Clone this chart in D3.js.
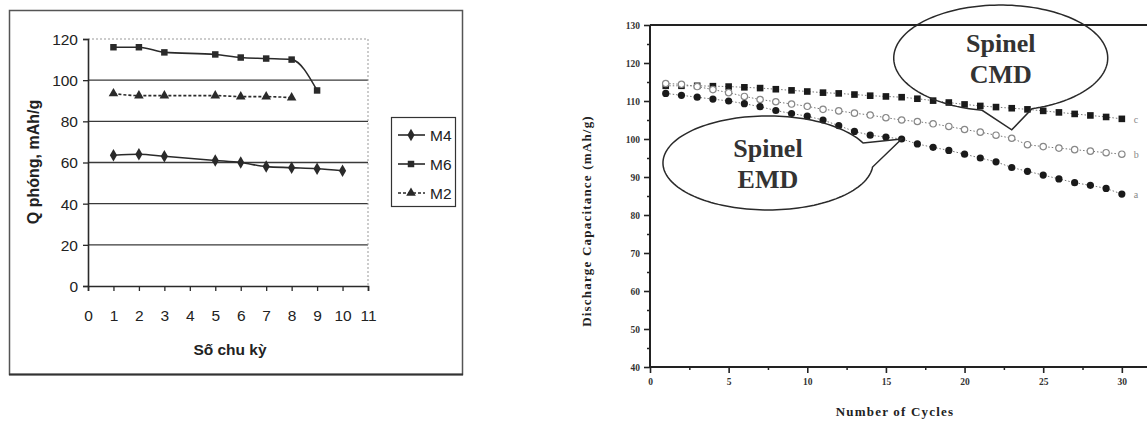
<!DOCTYPE html>
<html><head><meta charset="utf-8">
<script src="https://cdn.jsdelivr.net/npm/d3@7"></script>
<style>body{margin:0;background:#fff}svg{display:block}</style>
</head><body>
<svg id="c" width="1147" height="421"></svg>
<script>
// ---------- Left chart data ----------
const leftXTicks = [0,1,2,3,4,5,6,7,8,9,10,11];
const leftYTicks = [0,20,40,60,80,100,120];
const m4Cycles = [1,2,3,5,6,7,8,9,10];
const m4Values = [63.5,64,63,61,60,58,57.5,57,56];
const m6Cycles = [1,2,3,5,6,7,8,9];
const m6Values = [116,116,113.5,112.5,111,110.5,110,95];
const m2Cycles = [1,2,3,5,6,7,8];
const m2Values = [93.5,92.5,92.5,92.5,92,92,91.5];
const leftSeriesNames = ["M4","M6","M2"];
const leftXTitle = "Số chu kỳ";
const leftYTitle = "Q phóng, mAh/g";

// ---------- Right chart data ----------
const rightCycles = [1,2,3,4,5,6,7,8,9,10,11,12,13,14,15,16,17,18,19,20,21,22,23,24,25,26,27,28,29,30];
const cmdValues = [114.0,114.0,114.0,113.9,113.8,113.6,113.4,113.1,112.8,112.5,112.2,112.0,111.7,111.4,111.2,111.0,110.6,110.1,109.6,109.1,108.7,108.4,108.1,107.8,107.4,107.0,106.6,106.2,105.8,105.3];
const midValues = [114.6,114.4,113.8,113.0,112.2,111.2,110.4,109.8,109.2,108.6,107.8,107.4,106.8,106.3,105.6,105.0,104.6,104.0,103.3,102.5,101.8,101.0,100.2,98.5,98.0,97.6,97.2,96.8,96.4,96.0];
const emdValues = [112.0,111.5,111.0,110.5,110.0,109.3,108.5,107.5,106.7,106.0,105.0,103.5,102.0,101.0,100.5,100.0,98.7,97.8,97.0,96.0,95.0,94.0,92.5,91.5,90.5,89.5,88.5,87.8,87.0,85.5];
const endLabels = ["c","b","a"];
const rightXTicks = [0,5,10,15,20,25,30];
const rightYTicks = [40,50,60,70,80,90,100,110,120,130];
const rightXTitle = "Number of Cycles";
const rightYTitle = "Discharge Capacitance (mAh/g)";
const callouts = [
  {lines:["Spinel","CMD"], cx:22.3, cy:121.3, rx:107, ry:53, a1:73, a2:100, tipX:23, tipY:102.4},
  {lines:["Spinel","EMD"], cx:7.5, cy:93.7, rx:105, ry:47, a1:5, a2:-25, tipX:16, tipY:100}
];

const svg = d3.select("#c");
svg.append("rect").attr("width",1147).attr("height",421).attr("fill","#fff");
const ink = "#2a2a2a";

// =========== LEFT CHART ===========
const L = svg.append("g");
L.append("rect").attr("x",9.5).attr("y",10.5).attr("width",453).attr("height",364)
  .attr("fill","#fff").attr("stroke","#555").attr("stroke-width",1.5);
L.append("line").attr("x1",9).attr("x2",463).attr("y1",374.5).attr("y2",374.5).attr("stroke","#333").attr("stroke-width",2);

const lx = d3.scaleLinear().domain([0,11]).range([88,368]);
const ly = d3.scaleLinear().domain([0,120]).range([286,39]);

L.selectAll(".grid").data(leftYTicks.filter(v=>v>0 && v<120)).join("line")
  .attr("x1",lx(0)).attr("x2",lx(11)).attr("y1",d=>ly(d)).attr("y2",d=>ly(d))
  .attr("stroke","#3a3a3a").attr("stroke-width",1.4);
L.append("line").attr("x1",lx(0)).attr("x2",lx(11)).attr("y1",ly(120)).attr("y2",ly(120))
  .attr("stroke","#999").attr("stroke-width",1).attr("stroke-dasharray","2,2");
L.append("line").attr("x1",lx(11)).attr("x2",lx(11)).attr("y1",ly(120)).attr("y2",ly(0))
  .attr("stroke","#999").attr("stroke-width",1).attr("stroke-dasharray","2,2");

const lyAxis = L.append("g").attr("transform",`translate(${lx(0)},0)`)
  .call(d3.axisLeft(ly).tickValues(leftYTicks).tickSize(5).tickPadding(5));
const lxAxis = L.append("g").attr("transform",`translate(0,${ly(0)})`)
  .call(d3.axisBottom(lx).tickValues(leftXTicks).tickSize(5).tickPadding(19));
[lyAxis,lxAxis].forEach(a=>{
  a.select(".domain").attr("stroke",ink).attr("stroke-width",1.6);
  a.selectAll(".tick line").attr("stroke",ink).attr("stroke-width",1.3);
  a.selectAll("text").attr("font-family","Liberation Sans, Arial, sans-serif").attr("font-size",15.5).attr("fill","#222");
});
lyAxis.selectAll("text").attr("dy","0.35em");

L.append("text").attr("x",230).attr("y",355).attr("text-anchor","middle")
  .attr("font-family","Liberation Sans, Arial, sans-serif").attr("font-weight","bold").attr("font-size",15.5).attr("fill","#222")
  .text(leftXTitle);
L.append("text").attr("transform","translate(39,162) rotate(-90)").attr("text-anchor","middle")
  .attr("font-family","Liberation Sans, Arial, sans-serif").attr("font-weight","bold").attr("font-size",16).attr("fill","#222")
  .text(leftYTitle);

const leftSeries = [
  {name:leftSeriesNames[0], xs:m4Cycles, ys:m4Values, sym:d3.symbolDiamond, size:45, dash:null},
  {name:leftSeriesNames[1], xs:m6Cycles, ys:m6Values, sym:d3.symbolSquare, size:42, dash:null},
  {name:leftSeriesNames[2], xs:m2Cycles, ys:m2Values, sym:d3.symbolTriangle, size:40, dash:"3,2"}
];
const lline = d3.line().x(d=>lx(d[0])).y(d=>ly(d[1])).curve(d3.curveMonotoneX);
leftSeries.forEach(s=>{
  const pts = s.xs.map((x,i)=>[x,s.ys[i]]);
  L.append("path").attr("d",lline(pts)).attr("fill","none").attr("stroke",ink).attr("stroke-width",1.6)
    .attr("stroke-dasharray",s.dash);
  L.selectAll(null).data(pts).join("path")
    .attr("transform",d=>`translate(${lx(d[0])},${ly(d[1])})`)
    .attr("d",d3.symbol().type(s.sym).size(s.size)).attr("fill",ink);
});

const lg = L.append("g");
lg.append("rect").attr("x",391.5).attr("y",117.5).attr("width",64).attr("height",89)
  .attr("fill","#fff").attr("stroke","#333").attr("stroke-width",1.2);
leftSeries.forEach((s,i)=>{
  const yy = 135 + i*29;
  lg.append("line").attr("x1",398).attr("x2",425).attr("y1",yy).attr("y2",yy)
    .attr("stroke",ink).attr("stroke-width",1.6).attr("stroke-dasharray",s.dash);
  lg.append("path").attr("transform",`translate(411,${yy})`).attr("d",d3.symbol().type(s.sym).size(s.size)).attr("fill",ink);
  lg.append("text").attr("x",430).attr("y",yy).attr("dy","0.36em")
    .attr("font-family","Liberation Sans, Arial, sans-serif").attr("font-size",15.5).attr("fill","#222").text(s.name);
});

// =========== RIGHT CHART ===========
const R = svg.append("g");
const rx = d3.scaleLinear().domain([0,31.6]).range([650,1147]);
const ry = d3.scaleLinear().domain([40,130]).range([367,25]);
const serif = "Liberation Serif, Times New Roman, serif";

R.append("line").attr("x1",rx(0)).attr("x2",1147).attr("y1",ry(130)).attr("y2",ry(130)).attr("stroke","#222").attr("stroke-width",1.8);

R.append("g").attr("transform",`translate(${rx(0)},0)`)
  .call(d3.axisLeft(ry).tickValues(d3.range(45,130,10)).tickSize(3).tickFormat(""))
  .call(g=>{g.select(".domain").remove(); g.selectAll("line").attr("stroke","#222").attr("stroke-width",1.5);});
R.append("g").attr("transform",`translate(0,${ry(40)})`)
  .call(d3.axisBottom(rx).tickValues(d3.range(2.5,31,5)).tickSize(3).tickFormat(""))
  .call(g=>{g.select(".domain").remove(); g.selectAll("line").attr("stroke","#222").attr("stroke-width",1.5);});

const ryAxis = R.append("g").attr("transform",`translate(${rx(0)},0)`)
  .call(d3.axisLeft(ry).tickValues(rightYTicks).tickSize(6).tickPadding(4));
const rxAxis = R.append("g").attr("transform",`translate(0,${ry(40)})`)
  .call(d3.axisBottom(rx).tickValues(rightXTicks).tickSize(6).tickPadding(5));
[ryAxis,rxAxis].forEach(a=>{
  a.select(".domain").attr("stroke","#222").attr("stroke-width",2);
  a.selectAll(".tick line").attr("stroke","#222").attr("stroke-width",1.6);
  a.selectAll("text").attr("font-family",serif).attr("font-weight","bold").attr("font-size",9.5).attr("fill","#333");
});
rxAxis.select(".domain").attr("d",`M${rx(0)},0H1147`);
ryAxis.select(".domain").attr("d",`M0,${ry(130)}V${ry(40)}`);

R.append("text").attr("x",895).attr("y",416).attr("text-anchor","middle")
  .attr("font-family",serif).attr("font-weight","bold").attr("font-size",13).attr("letter-spacing",1.2).attr("fill","#222").text(rightXTitle);
R.append("text").attr("transform","translate(591,221) rotate(-90)").attr("text-anchor","middle")
  .attr("font-family",serif).attr("font-weight","bold").attr("font-size",13).attr("letter-spacing",1.2).attr("fill","#222").text(rightYTitle);

const rightSeries = [
  {vals:cmdValues, kind:"square"},
  {vals:midValues, kind:"open"},
  {vals:emdValues, kind:"filled"}
];
const rline = d3.line().x(d=>rx(d[0])).y(d=>ry(d[1]));
rightSeries.forEach((s,si)=>{
  const pts = rightCycles.map((c,i)=>[c,s.vals[i]]);
  R.append("path").attr("d",rline(pts)).attr("fill","none").attr("stroke","#777").attr("stroke-width",1)
    .attr("stroke-dasharray","1.5,2");
  const g = R.selectAll(null).data(pts).join("g").attr("transform",d=>`translate(${rx(d[0])},${ry(d[1])})`);
  if (s.kind==="square") g.append("rect").attr("x",-3.3).attr("y",-3.3).attr("width",6.6).attr("height",6.6).attr("fill","#1a1a1a");
  else if (s.kind==="open") g.append("circle").attr("r",3.2).attr("fill","#fff").attr("stroke","#888").attr("stroke-width",1.2);
  else g.append("circle").attr("r",3.6).attr("fill","#1a1a1a");
  const last = pts[pts.length-1];
  R.append("text").attr("x",rx(last[0])+12).attr("y",ry(last[1])+4).attr("font-family",serif)
    .attr("font-size",10).attr("fill","#888").text(endLabels[si]);
});

callouts.forEach(c=>{
  const cx = rx(c.cx), cy = ry(c.cy);
  const toRad = a=>a*Math.PI/180;
  const p = a=>[cx + c.rx*Math.cos(toRad(a)), cy + c.ry*Math.sin(toRad(a))];
  let span = c.a2 - c.a1;
  if (Math.abs(span) < 180) span = span>0 ? span-360 : span+360;
  const steps = 140, path = [];
  for (let k=0;k<=steps;k++) path.push(p(c.a1 + span*k/steps));
  path.push([rx(c.tipX), ry(c.tipY)]);
  R.append("path").attr("d", d3.line()(path)+"Z").attr("fill","none").attr("stroke","#2a2a2a").attr("stroke-width",1.5);
  c.lines.forEach((t,i)=>{
    R.append("text").attr("x",cx).attr("y",cy - 6 + i*31).attr("text-anchor","middle")
      .attr("font-family",serif).attr("font-weight","bold").attr("font-size",26).attr("fill","#333").text(t);
  });
});
</script>
</body></html>
